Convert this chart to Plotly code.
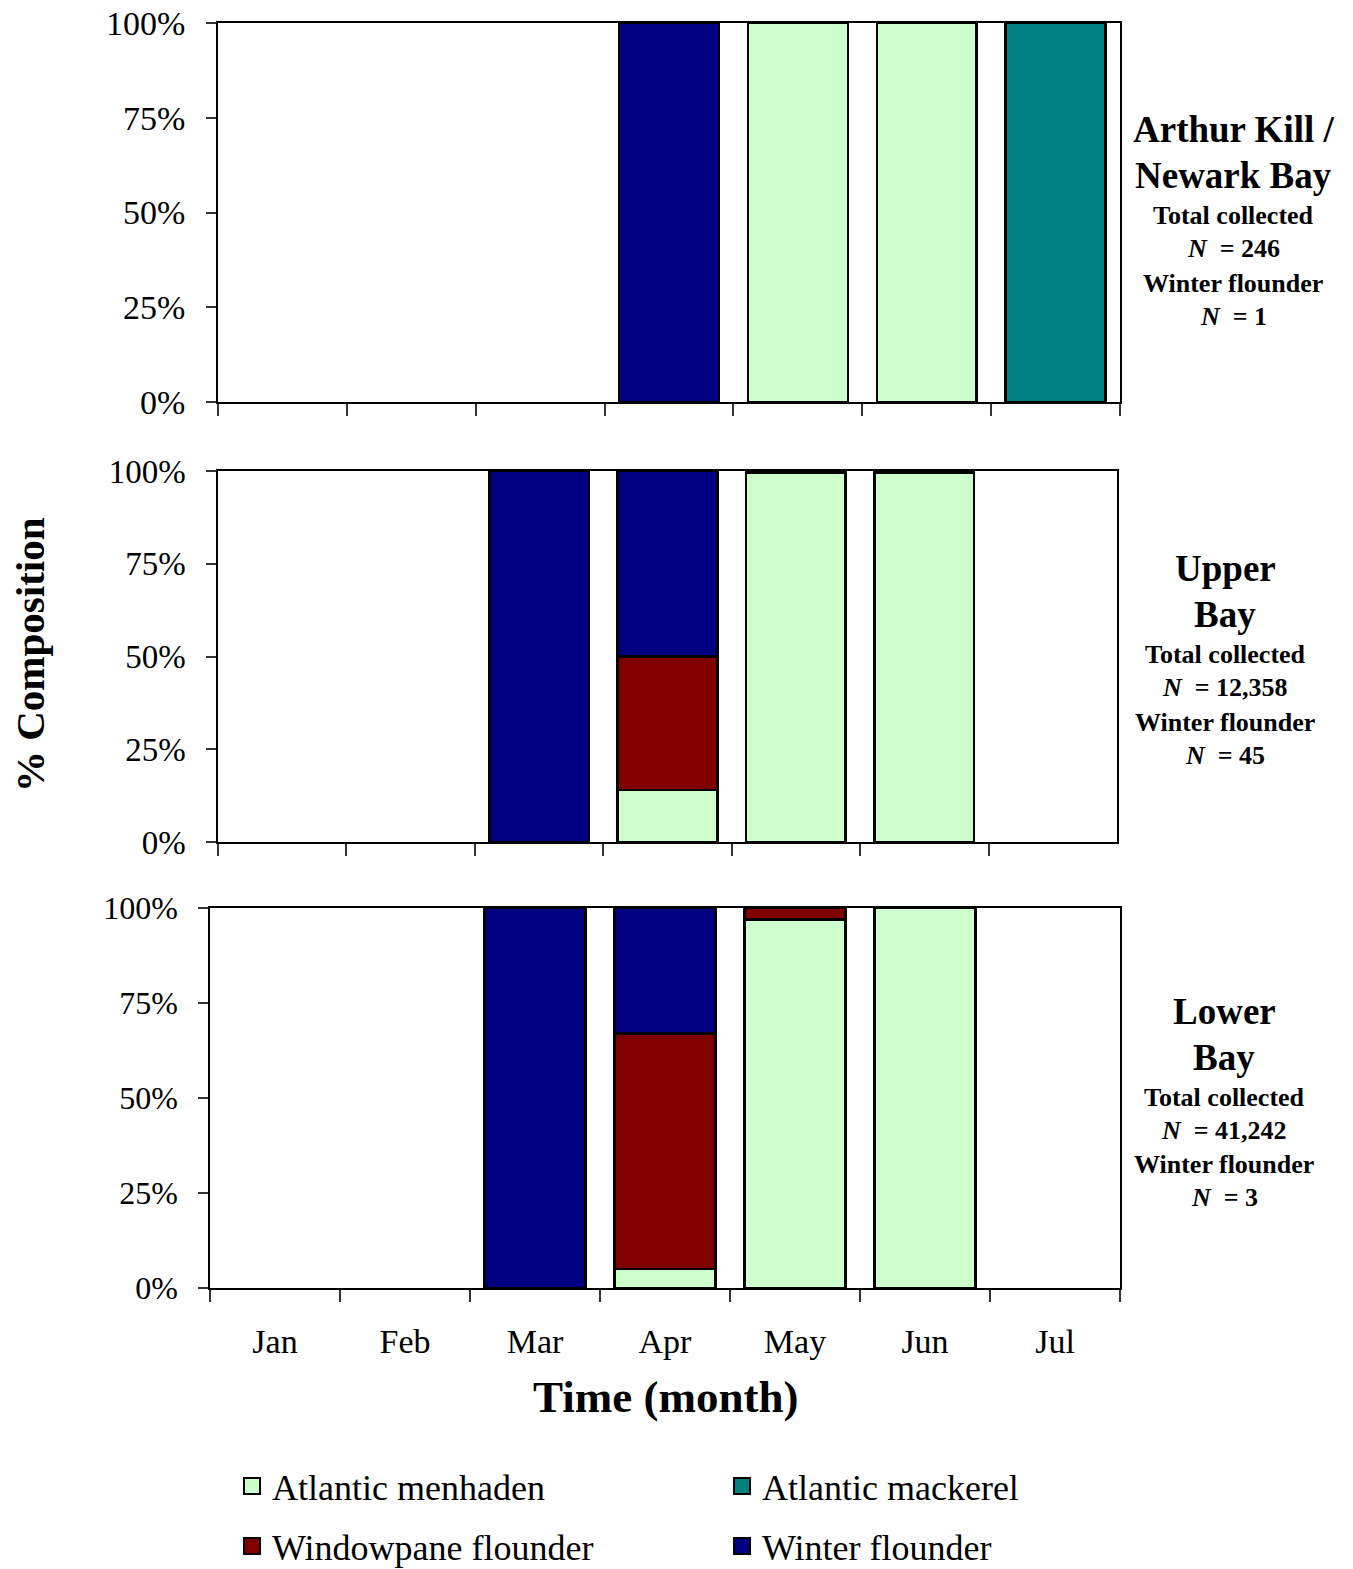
import plotly.graph_objects as go

months = ["Jan", "Feb", "Mar", "Apr", "May", "Jun", "Jul"]
species = ["Atlantic menhaden", "Windowpane flounder", "Winter flounder", "Atlantic mackerel"]
colors = {"Atlantic menhaden": "#CCFFCC", "Windowpane flounder": "#800000",
          "Winter flounder": "#000080", "Atlantic mackerel": "#008080"}

# % composition per region (None = no catch)
arthur_kill = {
    "Atlantic menhaden":   [None, None, None, None, 100, 100, None],
    "Windowpane flounder": [None, None, None, None, None, None, None],
    "Winter flounder":     [None, None, None, 100, None, None, None],
    "Atlantic mackerel":   [None, None, None, None, None, None, 100],
}
upper_bay = {
    "Atlantic menhaden":   [None, None, None, 14, 99.4, 99.4, None],
    "Windowpane flounder": [None, None, None, 36, None, None, None],
    "Winter flounder":     [None, None, 100, 50, 0.6, 0.6, None],
    "Atlantic mackerel":   [None, None, None, None, None, None, None],
}
lower_bay = {
    "Atlantic menhaden":   [None, None, None, 5, 97, 100, None],
    "Windowpane flounder": [None, None, None, 62, 3, None, None],
    "Winter flounder":     [None, None, 100, 33, None, None, None],
    "Atlantic mackerel":   [None, None, None, None, None, None, None],
}
region_titles = [("Arthur Kill /", "Newark Bay", "246", "1"),
                 ("Upper", "Bay", "12,358", "45"),
                 ("Lower", "Bay", "41,242", "3")]
y_ticks = [0, 25, 50, 75, 100]
y_ticktext = ["0%", "25%", "50%", "75%", "100%"]

# page has an 8px body margin; figure sized to fill the 1353x1569 window
OFF = 8
W, H = 1353 - OFF, 1569 - OFF
FONT = "Liberation Serif"


def X(px):
    return (px - OFF) / W


def Y(py):
    return 1 - (py - OFF) / H


fig = go.Figure()
panels = [arthur_kill, upper_bay, lower_bay]
axis_ids = ["", "2", "3"]
for data, ax in zip(panels, axis_ids):
    for sp in species:
        fig.add_trace(go.Bar(
            x=months, y=data[sp], name=sp, showlegend=False,
            marker=dict(color=colors[sp], line=dict(color="black", width=2.5)),
            xaxis="x" + ax, yaxis="y" + ax,
        ))

# legend entries
legend_order = [("Atlantic menhaden", "legend"), ("Atlantic mackerel", "legend"),
                ("Windowpane flounder", "legend2"), ("Winter flounder", "legend2")]
for sp, lg in legend_order:
    fig.add_trace(go.Scatter(
        x=[None], y=[None], mode="markers", name=sp, legend=lg,
        marker=dict(symbol="square", size=22, color=colors[sp],
                    line=dict(color="black", width=2)),
        xaxis="x3", yaxis="y3",
    ))

# panel pixel geometry in reference pixels: (left, right, top, bottom)
geom = [(218, 1120, 23, 402), (218, 1117, 471, 842), (210, 1120, 908, 1288)]
tick_sizes = [34, 33, 32]
layout = {}
for i, ((l, r, t, b), ax) in enumerate(zip(geom, axis_ids)):
    layout["xaxis" + ax] = dict(
        domain=[X(l), X(r)], type="category", categoryorder="array",
        categoryarray=months, tickson="boundaries", ticks="outside", ticklen=12,
        tickwidth=1.5, tickcolor="#333", showline=True, linecolor="black",
        linewidth=1.5, mirror=True, showgrid=False,
        showticklabels=(i == 2), tickfont=dict(family=FONT, size=34, color="black"),
        ticklabelstandoff=22, anchor="y" + ax,
    )
    layout["yaxis" + ax] = dict(
        domain=[Y(b), Y(t)], range=[0, 100], tickmode="array",
        tickvals=y_ticks, ticktext=y_ticktext, ticks="outside", ticklen=10,
        tickwidth=1.5, tickcolor="#333", ticklabeloverflow="allow",
        showline=True, linecolor="black", linewidth=1.5, mirror=True,
        showgrid=False, zeroline=False, ticklabelstandoff=14,
        tickfont=dict(family=FONT, size=tick_sizes[i], color="black"),
        anchor="x" + ax,
    )

annotations = []
centers = [1233, 1225, 1224]
line_y = [[130, 176, 216, 249, 283, 316],
          [569, 615, 655, 688, 722, 755],
          [1011, 1057, 1097, 1130, 1164, 1197]]
for (t1, t2, ntot, nwf), cx, ys in zip(region_titles, centers, line_y):
    texts = [(f"<b>{t1}</b>", 37), (f"<b>{t2}</b>", 37),
             ("<b>Total collected</b>", 26), (f"<b><i>N</i>\u00a0 = {ntot}</b>", 26),
             ("<b>Winter flounder</b>", 26), (f"<b><i>N</i>\u00a0 = {nwf}</b>", 26)]
    for (txt, sz), yy in zip(texts, ys):
        annotations.append(dict(
            text=txt, x=X(cx), y=Y(yy), xref="paper", yref="paper",
            xanchor="center", yanchor="middle", showarrow=False,
            font=dict(family=FONT, size=sz, color="black"),
        ))
annotations.append(dict(
    text="<b>% Composition</b>", x=X(30), y=Y(655), xref="paper", yref="paper",
    xanchor="center", yanchor="middle", showarrow=False, textangle=-90,
    font=dict(family=FONT, size=41, color="black")))
annotations.append(dict(
    text="<b>Time (month)</b>", x=X(665), y=Y(1397), xref="paper", yref="paper",
    xanchor="center", yanchor="middle", showarrow=False,
    font=dict(family=FONT, size=45, color="black")))

legend_common = dict(orientation="h", xanchor="left", yanchor="middle",
                     entrywidth=445, entrywidthmode="pixels", traceorder="normal",
                     font=dict(family=FONT, size=36, color="black"),
                     bgcolor="rgba(0,0,0,0)", itemclick=False)

fig.update_layout(
    width=W, height=H, margin=dict(l=0, r=0, t=0, b=0, autoexpand=False),
    paper_bgcolor="white", plot_bgcolor="white",
    barmode="stack", bargap=0.225,
    font=dict(family=FONT, color="black"),
    annotations=annotations,
    legend=dict(x=X(232), y=Y(1486), **legend_common),
    legend2=dict(x=X(232), y=Y(1546), **legend_common),
    **layout,
)

fig.write_html("out.html")
